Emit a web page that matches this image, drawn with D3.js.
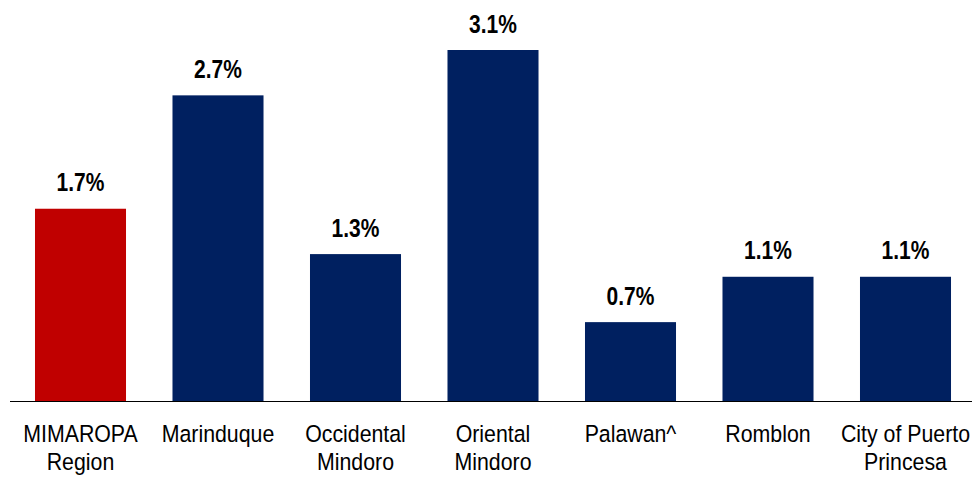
<!DOCTYPE html>
<html><head><meta charset="utf-8">
<script src="https://cdn.jsdelivr.net/npm/d3@7"></script>
<style>html,body{margin:0;padding:0;background:#fff;}svg{display:block;}</style>
</head><body>
<script>
const categories = [["MIMAROPA","Region"],["Marinduque"],["Occidental","Mindoro"],["Oriental","Mindoro"],["Palawan^"],["Romblon"],["City of Puerto","Princesa"]];
const values = [1.7, 2.7, 1.3, 3.1, 0.7, 1.1, 1.1];
const labels = ["1.7%","2.7%","1.3%","3.1%","0.7%","1.1%","1.1%"];
const colors = ["#C00000","#002060","#002060","#002060","#002060","#002060","#002060"];

const W = 972, H = 477;
const svg = d3.select("body").append("svg").attr("width", W).attr("height", H);
const keys = categories.map((c,i)=>i);
const x = d3.scaleBand().domain(keys).range([11.75, 974.25]).paddingInner(0.338).paddingOuter(0.169);
const y = d3.scaleLinear().domain([0, 3.1]).range([401.5, 50]);
const font = "Liberation Sans, Arial, sans-serif";

svg.selectAll("rect.bar").data(values).join("rect")
  .attr("x", (d,i)=>x(i)).attr("width", x.bandwidth())
  .attr("y", d=>y(d)).attr("height", d=>y(0)-y(d))
  .attr("fill", (d,i)=>colors[i]);

svg.append("line").attr("x1", 10).attr("x2", 972).attr("y1", y(0)).attr("y2", y(0))
  .attr("stroke", "#000").attr("stroke-width", 1.2);

svg.selectAll("text.val").data(values).join("text")
  .attr("transform", (d,i)=>`translate(${x(i)+x.bandwidth()/2},${y(d)-17.5}) scale(0.84,1)`)
  .attr("text-anchor","middle").attr("font-family",font)
  .attr("font-weight","bold").attr("font-size", 25).attr("fill","#000")
  .text((d,i)=>labels[i]);

const cat = svg.selectAll("text.cat").data(categories).join("text")
  .attr("transform", (d,i)=>`translate(${x(i)+x.bandwidth()/2},442) scale(0.87,1)`)
  .attr("text-anchor","middle").attr("font-family",font)
  .attr("font-size", 24.5).attr("fill","#000");
cat.each(function(lines,i){
  const t = d3.select(this);
  lines.forEach((l,j)=>{
    t.append("tspan").attr("x", 0).attr("y", j*28).text(l);
  });
});
</script>
</body></html>
